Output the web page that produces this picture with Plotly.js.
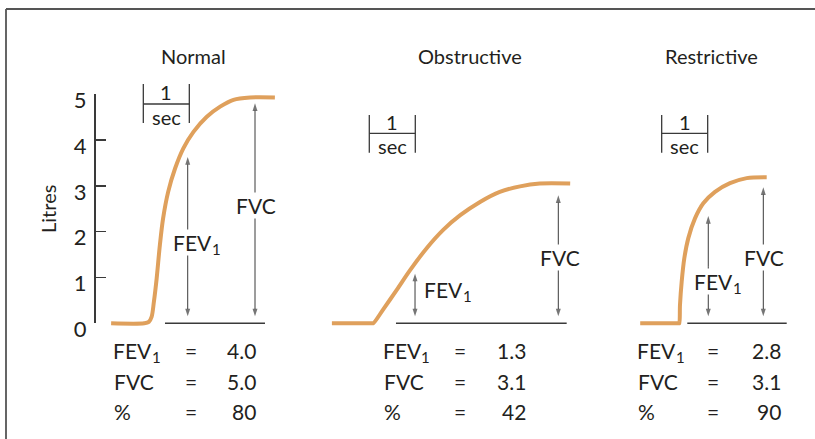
<!DOCTYPE html>
<html>
<head>
<meta charset="utf-8">
<script src="https://cdn.plot.ly/plotly-3.0.1.min.js"></script>
<style>
  html, body { margin: 0; padding: 0; background: #fff; }
  #chart { width: 815px; height: 439px; }
</style>
</head>
<body>
<div id="chart"></div>
<script>
// Forced expiratory spirograms: volume (litres) against time (seconds
// from the start of the forced expiration) for three lung patterns.
const categories = ['Normal', 'Obstructive', 'Restrictive'];
const fev1 = [4.0, 1.3, 2.8];
const fvc = [5.0, 3.1, 3.1];
const ratioPct = [80, 42, 90];
const volumeTicks = [0, 1, 2, 3, 4, 5];
const rowLabels = ['FEV', 'FVC', '%'];

const normalT = [-0.78, -0.06, 0.04, 0.10, 0.15, 0.21, 0.28, 0.35, 0.46, 0.61, 0.79, 1.01, 1.30, 1.59, 1.88, 2.24, 2.78];
const normalV = [0, 0, 0.03, 0.14, 0.47, 0.98, 1.71, 2.29, 2.87, 3.38, 3.82, 4.18, 4.51, 4.73, 4.88, 4.93, 4.93];

const obstructiveT = [-0.90, -0.02, 0, 0.22, 0.51, 0.80, 1.16, 1.52, 1.89, 2.32, 2.75, 3.19, 3.62, 4.28];
const obstructiveV = [0, 0, 0, 0.31, 0.73, 1.16, 1.64, 2.04, 2.36, 2.65, 2.87, 2.99, 3.05, 3.05];

const restrictiveT = [-0.85, -0.01, 0, 0.015, 0.052, 0.109, 0.196, 0.341, 0.522, 0.776, 1.102, 1.465, 1.90];
const restrictiveV = [0, 0, 0, 0.40, 0.91, 1.42, 1.86, 2.29, 2.62, 2.87, 3.06, 3.17, 3.19];

const curves = [[normalT, normalV], [obstructiveT, obstructiveV], [restrictiveT, restrictiveV]];

// ---- page geometry -------------------------------------------------------
const W = 815, H = 439;
const BASE_PX = 323.3;     // vertical pixel of 0 litres
const LITRE_PX = 45.8;     // pixels per litre
const SEC_PX = 46;         // pixels per second
const startPx = [147, 373.3, 679.3];   // where each expiration begins
const xa = ['x', 'x2', 'x3'];
const px = v => v / W;
const py = v => 1 - v / H;

const INK = '#231f20';
const LINE = '#3a3a3a';
const ORANGE = '#dfa05c';
const FONT = 'Lato, "Open Sans", sans-serif';
const FEV_W = 38.5;        // width of the word "FEV" at 21px

// per-panel placement (seconds on each panel's own time axis)
const panelCfg = [
  { title: 193, arrows: [0.885, 2.348], gap: [17, 9], base: [0.391, 2.565],
    bar: { t: -0.08, top: 84, mid: 104, bot: 123 },
    fevLbl: [172.3, 242], fvcLbl: [256, 205],
    table: { left: 112.3, eq: 190.5, right: 258.3 } },
  { title: 470, arrows: [0.907, 4.022], gap: [10, 14], base: [0.493, 4.204],
    bar: { t: -0.087, top: 115, mid: 133.3, bot: 152.7 },
    fevLbl: [423.3, 289], fvcLbl: [560, 257],
    table: { left: 381.7, eq: 460, right: 528.3 } },
  { title: 711.7, arrows: [0.63, 1.826], gap: [21, 6], base: [0.174, 2.335],
    bar: { t: -0.383, top: 115, mid: 133.3, bot: 152.7 },
    fevLbl: [693.3, 281], fvcLbl: [764, 257],
    table: { left: 636, eq: 713.3, right: 782.7 } }
];

const traces = [];
const shapes = [];
const annotations = [];

function text(x, y, str, opts) {
  return Object.assign({ xref: 'paper', yref: 'paper', x: px(x), y: py(y), text: str,
    showarrow: false, xanchor: 'center', yanchor: 'middle',
    font: { family: FONT, size: 21, color: INK } }, opts || {});
}

// "FEV" followed by a lowered subscript one
function fevLabel(left, y, bg) {
  const extra = { borderpad: 0 };
  if (bg) extra.bgcolor = '#fff';
  annotations.push(text(left, y, 'FEV', Object.assign({ xanchor: 'left' }, extra)));
  annotations.push(text(left + FEV_W, y + 7, '1',
    Object.assign({ xanchor: 'left', font: { family: FONT, size: 15, color: INK } }, extra)));
}

curves.forEach(([t, v], i) => {
  traces.push({
    type: 'scatter', mode: 'lines', x: t, y: v, xaxis: xa[i], yaxis: 'y',
    line: { color: ORANGE, width: 4, shape: 'spline', smoothing: 0.9 },
    hoverinfo: 'skip', showlegend: false
  });
});
// carrier for the litres scale of the first panel
traces.push({ type: 'scatter', mode: 'lines', x: [], y: [], xaxis: 'x', yaxis: 'y2',
  hoverinfo: 'skip', showlegend: false });

// half of a double-headed measuring arrow, from its middle to one tip
function halfArrow(i, t, from, to) {
  return {
    type: 'scatter', mode: 'lines+markers', x: [t, t], y: [from, to],
    xaxis: xa[i], yaxis: 'y',
    line: { color: LINE, width: 1, backoff: 'auto' },
    marker: { symbol: 'arrow', angleref: 'previous', size: [0, 8], color: LINE,
      line: { width: 0 } },
    hoverinfo: 'skip', showlegend: false
  };
}

panelCfg.forEach((c, i) => {
  const xr = xa[i];
  // panel heading
  annotations.push(text(c.title, 55.5, categories[i], { font: { family: FONT, size: 20, color: INK } }));

  // baseline under the curve
  shapes.push({ type: 'line', xref: xr, yref: 'y', x0: c.base[0], x1: c.base[1], y0: 0, y1: 0,
    line: { color: LINE, width: 1.5 } });

  // one-second scale bar
  const b = c.bar;
  [b.t, b.t + 1].forEach(xx => shapes.push({ type: 'line', xref: xr, yref: 'paper',
    x0: xx, x1: xx, y0: py(b.top), y1: py(b.bot), line: { color: LINE, width: 1.3 } }));
  shapes.push({ type: 'line', xref: xr, yref: 'paper', x0: b.t, x1: b.t + 1,
    y0: py(b.mid), y1: py(b.mid), line: { color: LINE, width: 1.3 } });
  annotations.push({ xref: xr, yref: 'paper', x: b.t + 0.5, y: py(b.mid - 11.5),
    text: '1', showarrow: false, xanchor: 'center', yanchor: 'middle',
    font: { family: FONT, size: 20, color: INK } });
  annotations.push({ xref: xr, yref: 'paper', x: b.t + 0.5, y: py(b.mid + 12.5),
    text: 'sec', showarrow: false, xanchor: 'center', yanchor: 'middle',
    font: { family: FONT, size: 20, color: INK } });

  // FEV1 and FVC double-headed arrows, tips stopping just short of the trace
  [fev1[i], fvc[i]].forEach((val, k) => {
    const top = val - c.gap[k] / LITRE_PX;
    const bottom = 7 / LITRE_PX;
    const mid = (top + bottom) / 2;
    traces.push(halfArrow(i, c.arrows[k], mid, top));
    traces.push(halfArrow(i, c.arrows[k], mid, bottom));
  });
  fevLabel(c.fevLbl[0], c.fevLbl[1], true);
  annotations.push(text(c.fvcLbl[0], c.fvcLbl[1], 'FVC', { bgcolor: '#fff', borderpad: 0 }));

  // summary table
  const rowsY = [350.3, 381.2, 411.7];
  const vals = [fev1[i].toFixed(1), fvc[i].toFixed(1), String(ratioPct[i])];
  rowsY.forEach((ry, r) => {
    if (r === 0) fevLabel(c.table.left, ry, false);
    else annotations.push(text(c.table.left, ry, rowLabels[r], { xanchor: 'left' }));
    annotations.push(text(c.table.eq, ry, '='));
    annotations.push(text(c.table.right, ry, vals[r], { xanchor: 'right' }));
  });
});

// outer frame (top and left rules)
shapes.push({ type: 'line', xref: 'paper', yref: 'paper', x0: px(6), x1: 1, y0: py(9), y1: py(9),
  line: { color: '#555', width: 1.8 } });
shapes.push({ type: 'line', xref: 'paper', yref: 'paper', x0: px(6), x1: px(6), y0: py(9), y1: 0,
  line: { color: '#555', width: 1.8 } });

const hiddenX = i => ({
  domain: [0, 1], range: [-startPx[i] / SEC_PX, (W - startPx[i]) / SEC_PX],
  visible: false, fixedrange: true, anchor: 'y',
  ...(i > 0 ? { overlaying: 'x' } : {})
});

const layout = {
  width: W, height: H, autosize: false,
  margin: { l: 0, r: 0, t: 0, b: 0, pad: 0 },
  paper_bgcolor: '#fff', plot_bgcolor: 'rgba(0,0,0,0)',
  showlegend: false, hovermode: false,
  xaxis: hiddenX(0), xaxis2: hiddenX(1), xaxis3: hiddenX(2),
  yaxis: { domain: [0, 1], range: [-(H - BASE_PX) / LITRE_PX, BASE_PX / LITRE_PX],
    visible: false, fixedrange: true },
  yaxis2: {
    domain: [py(BASE_PX), py(BASE_PX - 5 * LITRE_PX)], range: [0, 5],
    anchor: 'free', position: px(94), side: 'left',
    tickvals: volumeTicks, ticktext: volumeTicks.map(String),
    showline: true, linecolor: LINE, linewidth: 1.5,
    ticks: 'inside', ticklen: 10, tickwidth: 1.5, tickcolor: LINE,
    showgrid: false, zeroline: false,
    ticklabelstandoff: 3, ticklabelshift: 6,
    tickfont: { family: FONT, size: 22, color: INK },
    title: { text: 'Litres', standoff: 10, font: { family: FONT, size: 20, color: INK } }
  },
  shapes, annotations
};

Plotly.newPlot('chart', traces, layout, { staticPlot: true, displayModeBar: false });
</script>
</body>
</html>
